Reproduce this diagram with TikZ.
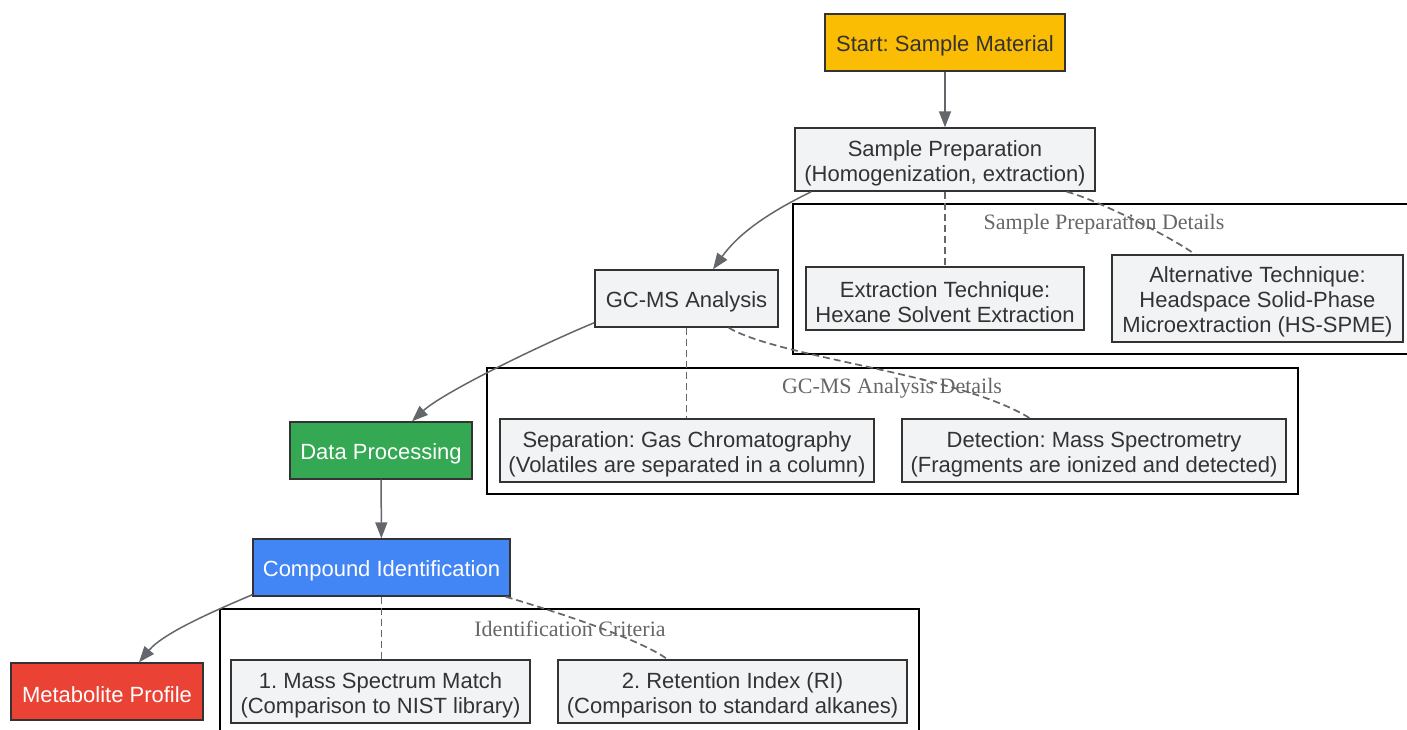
\documentclass[tikz,border=0pt]{standalone}
\usepackage{fontspec}
\setmainfont{Liberation Sans}
\newfontfamily\clusterfont{Liberation Serif}
\usetikzlibrary{shapes.geometric, arrows.meta}
\frenchspacing
\newcommand{\topstrut}{\rule{0pt}{23pt}}

\definecolor{startfill}{HTML}{FBBC04}
\definecolor{stepfill}{HTML}{F1F3F4}
\definecolor{datafill}{HTML}{34A853}
\definecolor{idfill}{HTML}{4285F4}
\definecolor{resultfill}{HTML}{EA4335}
\definecolor{boxline}{HTML}{333333}
\definecolor{edgegray}{HTML}{63666A}
\definecolor{labelgray}{HTML}{666666}

\tikzstyle{startstop} = [rectangle,
minimum width=240pt,
minimum height=57pt,
inner sep=0pt,
text centered,
draw=boxline,
line width=1.4pt,
text=boxline,
fill=startfill]
\tikzstyle{process} = [rectangle,
minimum height=63pt,
inner sep=0pt,
align=center,
draw=boxline,
line width=1.4pt,
text=boxline,
fill=stepfill]
\tikzstyle{colorbox} = [rectangle,
minimum height=57pt,
inner sep=0pt,
text centered,
draw=boxline,
line width=1.4pt,
text=white]
\tikzstyle{cluster} = [rectangle,
inner sep=0pt,
draw=black,
line width=1.7pt]
\tikzstyle{clusterlabel} = [inner sep=0pt,
text=labelgray,
font=\clusterfont\fontsize{22pt}{25pt}\selectfont]
\tikzstyle{arrow} = [line width=1.5pt, draw=edgegray, -{Triangle[length=16pt,width=12pt]}]
\tikzstyle{dashline} = [line width=1.7pt, draw=edgegray, dash pattern=on 7pt off 4pt]

\begin{document}
\begin{tikzpicture}[x=1pt, y=-1pt, every node/.style={font=\fontsize{22pt}{25pt}\selectfont}]
\useasboundingbox (0,0) rectangle (1407,729);

% Clusters
\node (prepgroup) [cluster, minimum width=617pt, minimum height=150pt] at (1101.5,279) {};
\node (prepgrouplabel) [clusterlabel] at (1104,224) {Sample Preparation Details};

\node (gcmsgroup) [cluster, minimum width=811pt, minimum height=126pt] at (892.5,431) {};
\node (gcmsgrouplabel) [clusterlabel] at (892,388) {GC-MS Analysis Details};

\node (idgroup) [cluster, minimum width=699pt, minimum height=126pt] at (569.5,672) {};
\node (idgrouplabel) [clusterlabel] at (570,629) {Identification Criteria};

% Nodes
\node (start) [startstop] at (945,42.5) {\topstrut Start: Sample Material};

\node (prep) [process, minimum width=300pt] at (945,159.5) {\topstrut Sample Preparation\\(Homogenization, extraction)};

\node (extract) [process, minimum width=278pt] at (945,298.5) {\topstrut Extraction Technique:\\Hexane Solvent Extraction};

\node (spme) [process, minimum width=291pt, minimum height=87pt] at (1257.5,298.5) {\topstrut Alternative Technique:\\Headspace Solid-Phase\\Microextraction (HS-SPME)};

\node (gcms) [process, minimum width=183pt, minimum height=57pt] at (686.5,298.5) {\topstrut GC-MS Analysis};

\node (separate) [process, minimum width=374pt] at (687,450.5) {\topstrut Separation: Gas Chromatography\\(Volatiles are separated in a column)};

\node (detect) [process, minimum width=384pt] at (1094,450.5) {\topstrut Detection: Mass Spectrometry\\(Fragments are ionized and detected)};

\node (data) [colorbox, fill=datafill, minimum width=182pt] at (381,450.5) {\topstrut Data Processing};

\node (compound) [colorbox, fill=idfill, minimum width=257pt] at (381.5,567.5) {\topstrut Compound Identification};

\node (spectrum) [process, minimum width=299pt] at (380.5,691.5) {\topstrut 1. Mass Spectrum Match\\(Comparison to NIST library)};

\node (retention) [process, minimum width=349pt] at (732.5,691.5) {\topstrut 2. Retention Index (RI)\\(Comparison to standard alkanes)};

\node (profile) [colorbox, fill=resultfill, minimum width=192pt] at (107,691.5) {\topstrut Metabolite Profile};

% Connections
\draw [arrow] (start) -- (prep);

\draw [arrow] ([xshift=17pt]prep.south west) .. controls +(-45,22) and +(25,-35) .. ([xshift=26.5pt]gcms.north);

\draw [dashline] (prep.south) -- (extract.north);

\draw [dashline] ([xshift=-29pt]prep.south east) .. controls +(30,8) and +(-25,-18) .. ([xshift=-62.5pt]spme.north);

\draw [arrow] ([yshift=5pt]gcms.south west) .. controls +(-60,25) and +(30,-28) .. ([xshift=31pt]data.north);

\draw [dashline] (gcms.south) -- (gcms.south |- separate.north);

\draw [dashline] ([xshift=-50pt]gcms.south east) .. controls +(50,30) and +(-70,-44) .. ([xshift=-64pt]detect.north);

\draw [arrow] (data) -- (compound);

\draw [dashline] (compound.south) -- (compound.south |- spectrum.north);

\draw [dashline] ([xshift=-5pt]compound.south east) .. controls +(40,12) and +(-30,-22) .. ([xshift=-65pt]retention.north);

\draw [arrow] ([yshift=2pt]compound.south west) .. controls +(-35,15) and +(25,-30) .. ([xshift=32pt]profile.north);

\end{tikzpicture}
\end{document}
